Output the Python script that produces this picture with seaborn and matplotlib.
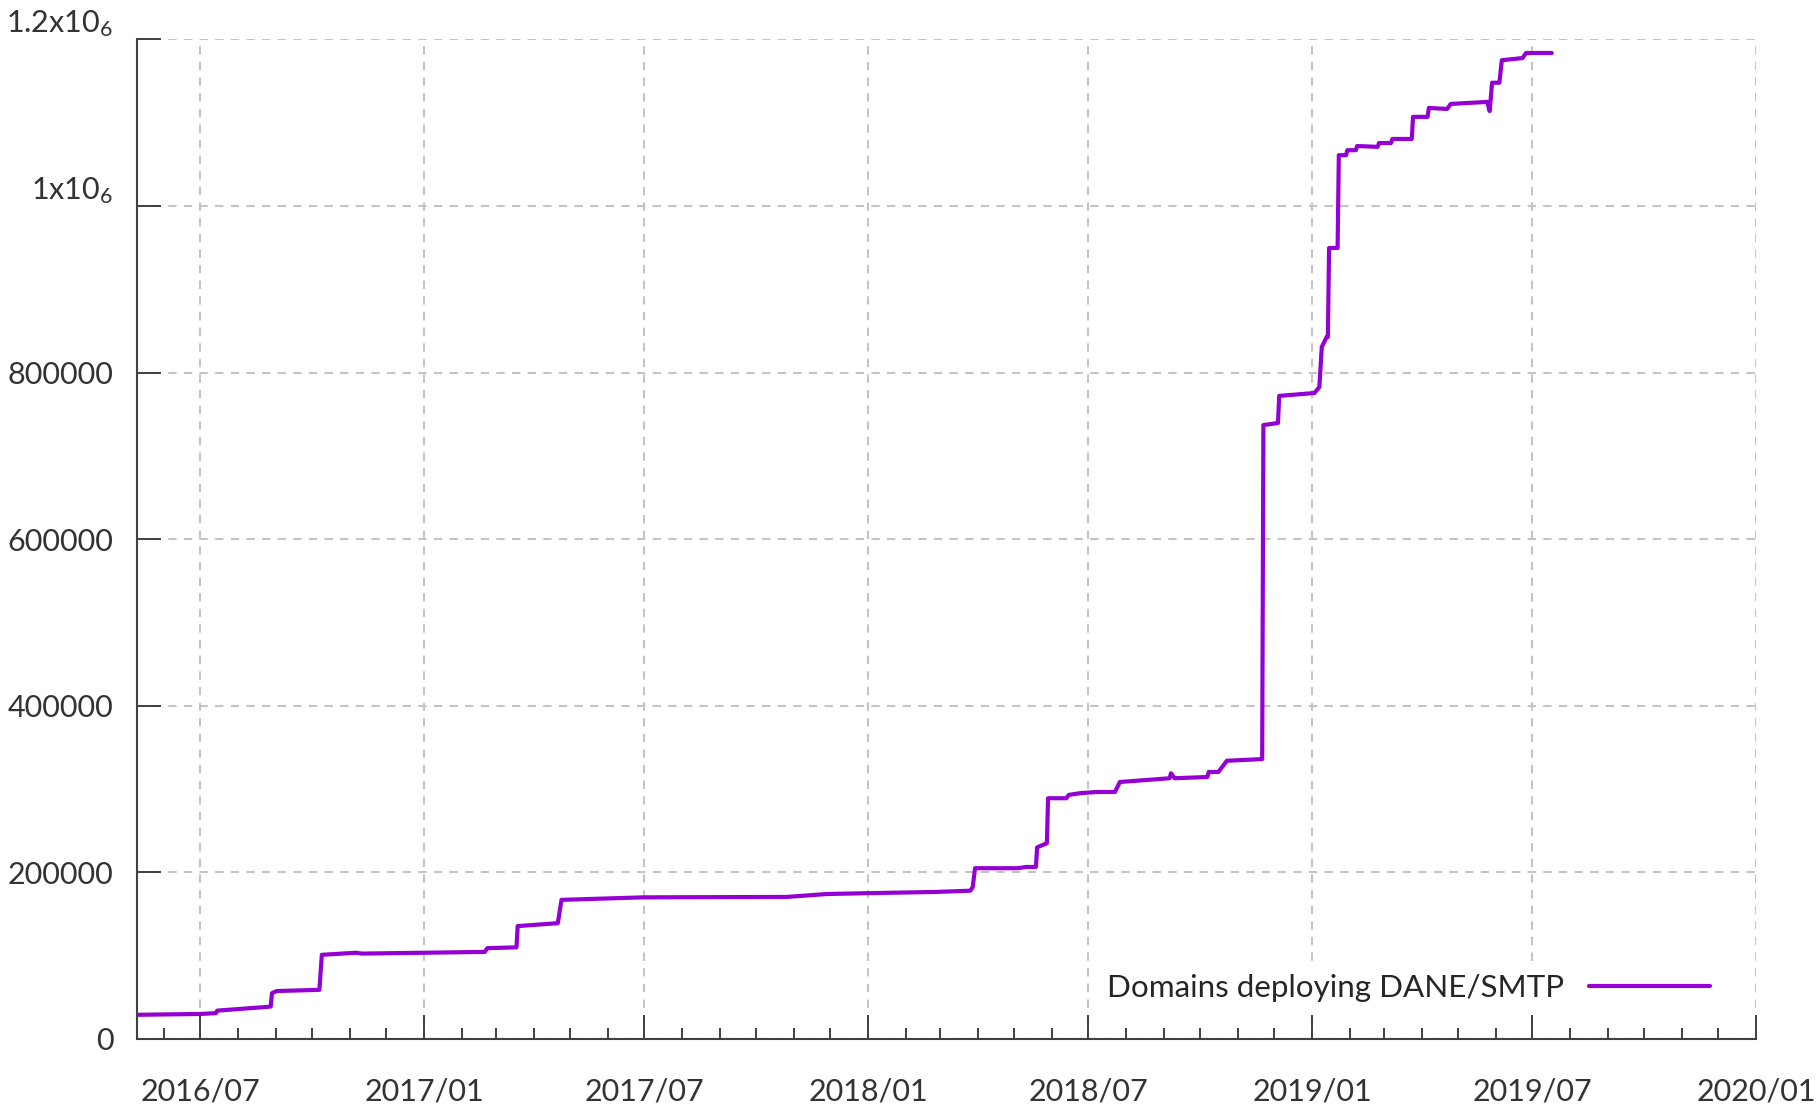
import seaborn as sns
import matplotlib.pyplot as plt
import matplotlib.dates as mdates
import pandas as pd

# values (step points, before/after each jump)
dates = ["2016-05-10", "2016-07-01", "2016-07-14", "2016-07-15", "2016-08-25",
         "2016-08-28", "2016-08-29", "2016-09-02", "2016-10-07", "2016-10-09",
         "2016-11-06", "2016-11-11", "2017-02-20", "2017-02-22", "2017-03-18",
         "2017-03-19", "2017-04-21", "2017-04-24", "2017-06-30", "2017-10-26",
         "2017-11-28", "2017-12-31", "2018-02-26", "2018-03-26", "2018-03-28",
         "2018-03-30", "2018-05-04", "2018-05-11", "2018-05-19", "2018-05-20",
         "2018-05-28", "2018-05-29", "2018-06-13", "2018-06-15", "2018-06-24",
         "2018-07-08", "2018-07-23", "2018-07-27", "2018-09-06", "2018-09-07",
         "2018-09-10", "2018-10-07", "2018-10-08", "2018-10-16", "2018-10-23",
         "2018-11-21", "2018-11-22", "2018-12-04", "2018-12-05", "2019-01-03",
         "2019-01-07", "2019-01-09", "2019-01-13", "2019-01-14", "2019-01-15",
         "2019-01-22", "2019-01-23", "2019-01-29", "2019-01-30", "2019-02-06",
         "2019-02-07", "2019-02-24", "2019-02-25", "2019-03-07", "2019-03-08",
         "2019-03-24", "2019-03-25", "2019-04-06", "2019-04-07", "2019-04-22",
         "2019-04-25", "2019-05-25", "2019-05-27", "2019-05-29", "2019-06-04",
         "2019-06-06", "2019-06-23", "2019-06-26", "2019-07-17"]
domains = [29000, 30000, 31000, 34000, 38500,
           39000, 55000, 57500, 59000, 101000,
           103500, 102500, 104500, 109000, 110000,
           135500, 139000, 167000, 170000, 170500,
           174000, 175000, 176500, 178000, 182000,
           205000, 205000, 206500, 206500, 230000,
           235000, 289000, 289000, 293000, 295000,
           296500, 296500, 308500, 313000, 319000,
           313000, 314500, 320500, 320500, 334000,
           336000, 737000, 739500, 772000, 775500,
           782700, 830700, 842800, 842800, 949600,
           949600, 1061000, 1061000, 1067000, 1067000,
           1072000, 1071000, 1075600, 1075600, 1080500,
           1080500, 1107000, 1107000, 1117700, 1116500,
           1122500, 1125000, 1114000, 1148000, 1148000,
           1175000, 1177600, 1183700, 1183700]

yticks = [0, 200000, 400000, 600000, 800000, 1000000, 1200000]
ylabels = ["0", "200000", "400000", "600000", "800000",
           r"1x10$\mathregular{_6}$", r"1.2x10$\mathregular{_6}$"]
label = "Domains deploying DANE/SMTP"

df = pd.DataFrame({"date": pd.to_datetime(dates), "domains": domains})

sns.set_theme(style="white")
plt.rcParams["font.family"] = ["Lato", "DejaVu Sans"]

fig = plt.figure(figsize=(18.16, 11.10), dpi=100)
ax = fig.add_subplot(111)
fig.subplots_adjust(left=0.0754, right=0.967, bottom=0.064, top=0.9645)

sns.lineplot(data=df, x="date", y="domains", color="#9400d3", lw=3.0,
             label=label, ax=ax)

ax.set_xlim(pd.Timestamp("2016-05-10"), pd.Timestamp("2020-01-01"))
ax.set_ylim(0, 1200000)
ax.set_xlabel("")
ax.set_ylabel("")

ax.xaxis.set_major_locator(mdates.MonthLocator(bymonth=[1, 7]))
ax.xaxis.set_minor_locator(mdates.MonthLocator())
ax.xaxis.set_major_formatter(mdates.DateFormatter("%Y/%m"))
ax.set_yticks(yticks)
ax.set_yticklabels(ylabels)

ax.set_axisbelow(True)
ax.grid(True, which="major", color="#c4c4c4", lw=1.5, ls=(0, (4, 3.5)))

for s in ["top", "right"]:
    ax.spines[s].set_visible(False)
for s in ["left", "bottom"]:
    ax.spines[s].set_color("#404040")
    ax.spines[s].set_linewidth(1.5)

ax.tick_params(axis="both", which="both", direction="in", colors="#404040",
               labelcolor="#333333", labelsize=22, width=1.4,
               left=True, bottom=True, right=False, top=False)
ax.tick_params(axis="both", which="major", length=17)
ax.tick_params(axis="x", which="minor", length=8)
ax.tick_params(axis="x", which="both", pad=28)
ax.tick_params(axis="y", pad=17)

for t in ax.get_yticklabels()[-2:]:
    t.set_verticalalignment("bottom")

leg = ax.legend(loc="center right", bbox_to_anchor=(0.9775, 0.051),
                markerfirst=False, handlelength=3.85, handletextpad=0.8,
                borderpad=0.3, borderaxespad=0, fontsize=22.6,
                frameon=True, fancybox=False, framealpha=1)
leg.get_frame().set_facecolor("white")
leg.get_frame().set_edgecolor("none")

plt.savefig("out.png", dpi=100)
